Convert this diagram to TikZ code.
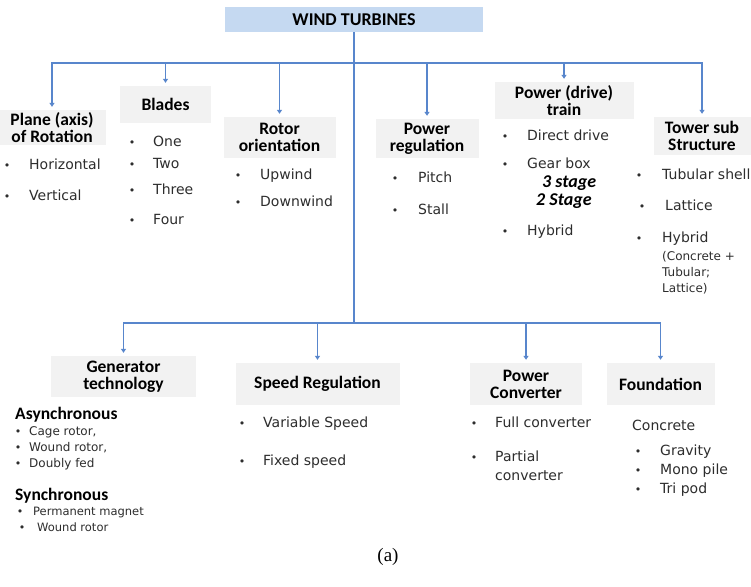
\documentclass[tikz,border=0pt]{standalone}
\usepackage{fontspec}
\usetikzlibrary{arrows.meta}
\newfontfamily\hdrf{Carlito}
\newfontfamily\itmf{DejaVu Sans}
\newfontfamily\serf{Liberation Serif}
\definecolor{lineblue}{RGB}{88,134,204}
\definecolor{boxgray}{RGB}{242,242,242}
\definecolor{titleblue}{RGB}{197,217,241}
\definecolor{itemgray}{RGB}{45,45,45}
\newcommand\bitem[6]{%
  \node[bul] (#2b) at (#3,#5) {•};
  \node[#1] (#2) at (#4,#5) {#6};}
\begin{document}
\begin{tikzpicture}[x=1pt,y=-1pt,
  hbox/.style={fill=boxgray, inner sep=0pt, align=center, text=black,
    font=\hdrf\bfseries\fontsize{17.5}{17}\selectfont},
  itm/.style={anchor=mid west, inner sep=0pt, text=itemgray,
    font=\itmf\fontsize{14}{16}\selectfont},
  sitm/.style={itm, font=\itmf\fontsize{12}{14}\selectfont},
  xsitm/.style={itm, font=\itmf\fontsize{11.5}{14}\selectfont},
  bul/.style={inner sep=0pt, text=itemgray, font=\itmf\fontsize{11}{12}\selectfont},
  sub/.style={anchor=mid west, inner sep=0pt, text=black,
    font=\hdrf\bfseries\fontsize{17.5}{17}\selectfont},
  stg/.style={anchor=mid west, inner sep=0pt, text=black,
    font=\hdrf\bfseries\itshape\fontsize{18}{17}\selectfont},
  conn/.style={draw=lineblue, line width=1.2pt},
  arr/.style={conn, -{Triangle[width=5pt,length=4pt]}, shorten >=3pt}]
\fill[white] (0,0) rectangle (751,586);
\useasboundingbox (0,0) rectangle (751,586);

% title
\node[fill=titleblue, inner sep=0pt, minimum width=258pt, minimum height=25pt,
  font=\hdrf\bfseries\fontsize{18}{18}\selectfont] (title) at (354,19.5) {WIND TURBINES};

% upper boxes
\node[hbox, minimum width=108pt, minimum height=35pt] (plane) at (52,127.5) {Plane (axis)\\of Rotation};
\node[hbox, minimum width=91pt, minimum height=37pt] (blades) at (165.5,104.5) {Blades};
\node[hbox, minimum width=112pt, minimum height=41pt] (rotor) at (279.5,137.5) {Rotor\\orientation};
\node[hbox, minimum width=103pt, minimum height=39pt] (preg) at (427,138.5) {Power\\regulation};
\node[hbox, minimum width=139pt, minimum height=37pt] (train) at (564,100.5) {Power (drive)\\train};
\node[hbox, minimum width=97pt, minimum height=38pt] (tower) at (702,136) {Tower sub\\Structure};

% lower boxes
\node[hbox, minimum width=145pt, minimum height=41pt] (gen) at (123.5,376.5) {Generator\\technology};
\node[hbox, minimum width=164pt, minimum height=42pt] (speed) at (317.5,384) {Speed Regulation};
\node[hbox, minimum width=112pt, minimum height=42pt] (conv) at (526,384) {Power\\Converter};
\node[hbox, minimum width=108pt, minimum height=42pt] (found) at (660.5,384) {Foundation};

% connectors
\coordinate (jtop) at (354,63);
\coordinate (jbot) at (354,323);
\draw[conn] (title.south) -- (jbot);
\draw[arr] (jtop) -| (plane.north);
\draw[arr] (jtop) -| (blades.north);
\draw[arr] (jtop) -| (rotor.north);
\draw[arr] (jtop) -| (preg.north);
\draw[arr] (jtop) -| (train.north);
\draw[arr] (jtop) -| (tower.north);
\draw[arr] (jbot) -| (gen.north);
\draw[arr] (jbot) -| (speed.north);
\draw[arr] (jbot) -| (conv.north);
\draw[arr] (jbot) -| (found.north);

% plane items
\bitem{itm}{pa}{7}{29}{167}{Horizontal}
\bitem{itm}{pb}{7}{29}{198}{Vertical}
% blades items
\bitem{itm}{ba}{132}{153}{144}{One}
\bitem{itm}{bb}{132}{153}{166}{Two}
\bitem{itm}{bc}{132}{153}{192}{Three}
\bitem{itm}{bd}{132}{153}{222}{Four}
% rotor items
\bitem{itm}{ra}{238}{260}{177}{Upwind}
\bitem{itm}{rb}{238}{260}{204}{Downwind}
% power regulation items
\bitem{itm}{ga}{395}{418}{180}{Pitch}
\bitem{itm}{gb}{395}{418}{212}{Stall}
% train items
\bitem{itm}{ta}{505}{527}{138}{Direct drive}
\bitem{itm}{tb}{505}{527}{166}{Gear box}
\node[stg] (tc) at (542,185) {3 stage};
\node[stg] (td) at (536,203) {2 Stage};
\bitem{itm}{te}{505}{527}{233}{Hybrid}
% tower items
\bitem{itm}{wa}{639}{662}{177}{Tubular shell}
\bitem{itm}{wb}{642}{665}{208}{Lattice}
\bitem{itm}{wc}{639}{662}{240}{Hybrid}
\node[sitm] (wd) at (662,258) {(Concrete +};
\node[sitm] (we) at (662,274) {Tubular;};
\node[sitm] (wf) at (662,290) {Lattice)};

% generator items
\node[sub] (async) at (15,417) {Asynchronous};
\bitem{sitm}{ea}{18}{29}{433}{Cage rotor,}
\bitem{sitm}{eb}{18}{29}{449}{Wound rotor,}
\bitem{sitm}{ec}{18}{29}{465}{Doubly fed}
\node[sub] (sync) at (15,498) {Synchronous};
\bitem{xsitm}{ed}{20}{33}{513}{Permanent magnet}
\bitem{xsitm}{ee}{22}{37}{529}{Wound rotor}
% speed items
\bitem{itm}{sa}{242}{263}{425}{Variable Speed}
\bitem{itm}{sb}{242}{263}{463}{Fixed speed}
% converter items
\bitem{itm}{ca}{474}{495}{425}{Full converter}
\bitem{itm}{cb}{474}{495}{459}{Partial}
\node[itm] (cc) at (495,478) {converter};
% foundation items
\node[itm] (fa) at (632,428) {Concrete};
\bitem{itm}{fb}{638}{660}{453}{Gravity}
\bitem{itm}{fc}{638}{660}{472}{Mono pile}
\bitem{itm}{fd}{638}{660}{491}{Tri pod}

% caption
\node[inner sep=0pt, font=\serf\fontsize{19}{20}\selectfont] (cap) at (388,557) {(a)};
\end{tikzpicture}
\end{document}
